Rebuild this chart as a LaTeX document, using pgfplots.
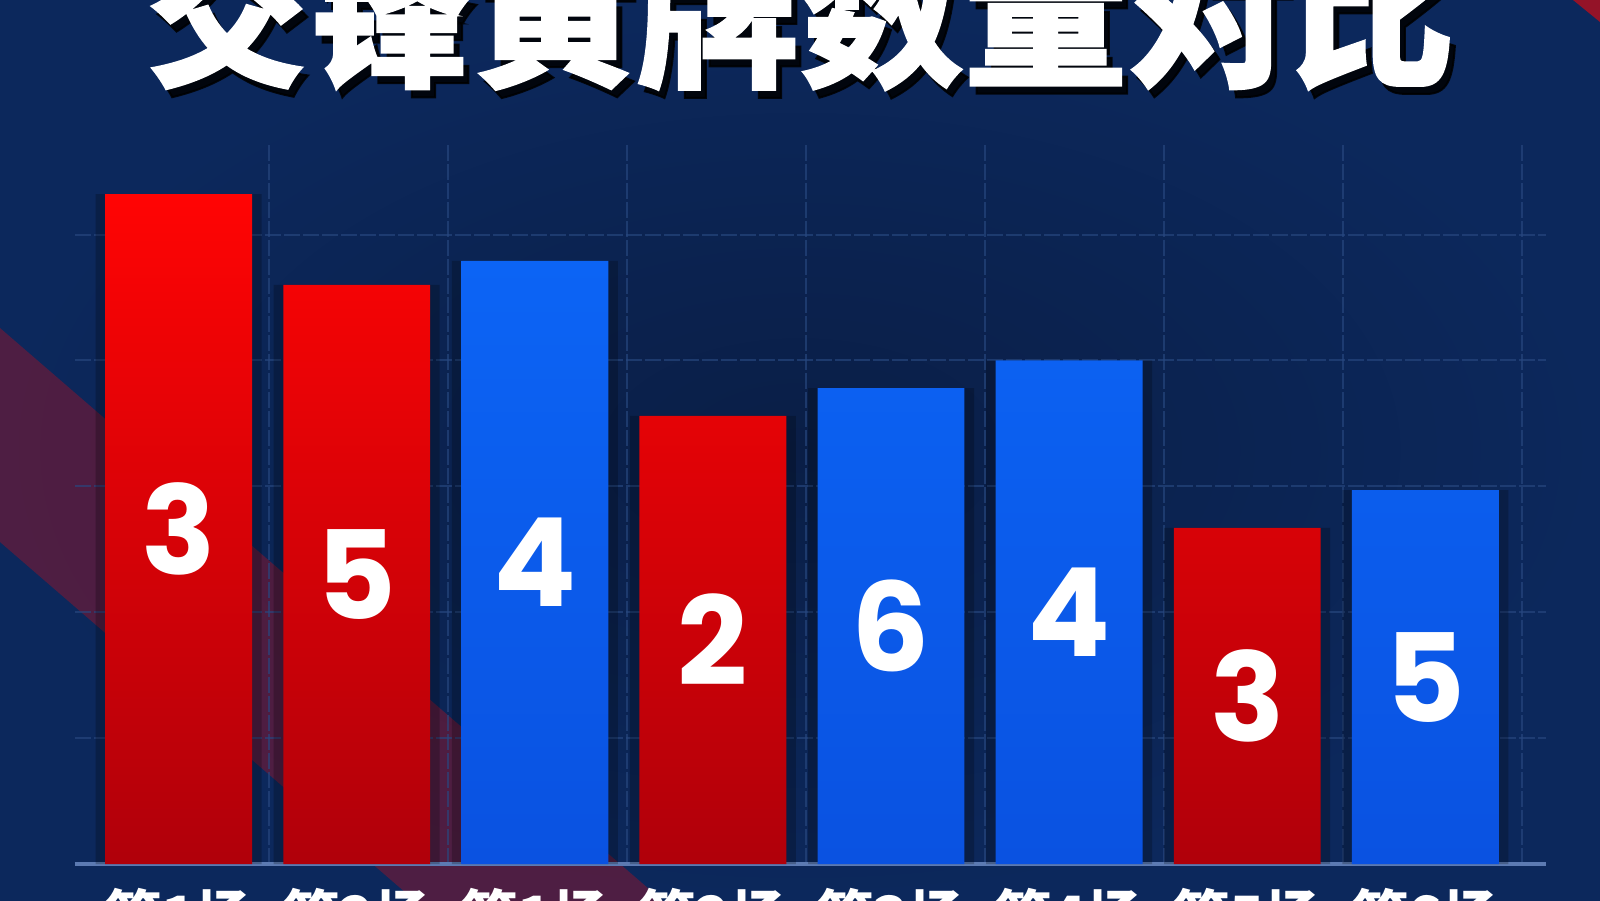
\documentclass[border=0pt]{standalone}
\usepackage{pgfplots}
\pgfplotsset{compat=1.18}
\usepackage{pgfplotstable}
\usepackage{fontspec}
\setmainfont{Noto Sans}
\newfontfamily\cjk{Noto Sans CJK SC}
\newfontfamily\cjktitle[BoldFeatures={FakeBold=1.2}]{Noto Sans CJK SC}
\newfontfamily\digits{Poppins}

\definecolor{bgmid}{RGB}{10,30,70}
\definecolor{bgout}{RGB}{12,40,92}
\definecolor{gridc}{RGB}{40,72,128}
\definecolor{axisc}{RGB}{92,122,178}
\definecolor{redtop}{RGB}{255,4,4}
\definecolor{redbot}{RGB}{176,0,10}
\definecolor{bluetop}{RGB}{12,100,245}
\definecolor{bluebot}{RGB}{10,82,225}
\definecolor{band}{RGB}{150,20,40}

% bar heights, n = number printed in the bar
\pgfplotstableread{
x h n
0 5.32 3
1 4.60 5
3 3.56 2
6 2.67 3
}\redtable
\pgfplotstableread{
x h n
2 4.79 4
4 3.78 6
5 4.00 4
7 2.97 5
}\bluetable

\begin{document}
\begin{tikzpicture}
\path[use as bounding box] (0,0) rectangle (160mm,90mm);
\clip (0,0) rectangle (160mm,90mm);
\shade[inner color=bgmid, outer color=bgout] (0,0) rectangle (160mm,90mm);
% red diagonal band on the left
\fill[band, opacity=0.48] (0,57.2mm) -- (0,35.8mm) -- (90mm,-42mm) -- (90mm,-20.6mm) -- cycle;
% red corner top right
\fill[band!70!red, opacity=0.8] (157.3mm,90mm) -- (160mm,90mm) -- (160mm,87.8mm) -- cycle;

\begin{axis}[
  at={(17.86mm,3.6mm)}, anchor=origin,
  x=17.81mm, y=12.59mm,
  xmin=-0.584, xmax=7.68, ymin=0, ymax=5.73,
  ybar, bar shift=0pt,
  axis x line*=bottom, axis y line*=left,
  y axis line style={draw=none},
  x axis line style={axisc, line width=0.45mm},
  xtick={0,...,7},
  xticklabels={第1场,第2场,第1场,第2场,第3场,第4场,第5场,第6场},
  xticklabel style={font=\cjk\bfseries\fontsize{16.2}{16.5}\selectfont, text=white, inner sep=0pt, anchor=north, yshift=-2.4mm},
  minor xtick={0.505,1.51,2.515,3.52,4.525,5.53,6.535,7.54},
  xminorgrids,
  ytick={1,2,3,4,5}, yticklabels={},
  ymajorgrids,
  major tick length=0pt, minor tick length=0pt,
  grid style={gridc, line width=0.2mm, dash pattern=on 1.6mm off 0.3mm, opacity=0.65},
  minor grid style={gridc, line width=0.2mm, dash pattern=on 1.6mm off 0.3mm, opacity=0.65},
  nodes near coords,
  point meta=explicit symbolic,
  visualization depends on={rawy \as \rawy},
  nodes near coords style={font=\digits\bfseries\fontsize{35}{35}\selectfont, text=white, anchor=center, yshift={-\rawy*6.295mm}},
]
% dark glow behind the bars
\addplot[bar width=16.6mm, fill=black, opacity=0.22, draw=none, nodes near coords=] table[x=x, y=h, meta=n] {\redtable};
\addplot[bar width=16.6mm, fill=black, opacity=0.22, draw=none, nodes near coords=] table[x=x, y=h, meta=n] {\bluetable};
% red team
\addplot[bar width=14.69mm, draw=none, top color=redtop, bottom color=redbot] table[x=x, y=h, meta=n] {\redtable};
% blue team
\addplot[bar width=14.69mm, draw=none, top color=bluetop, bottom color=bluebot] table[x=x, y=h, meta=n] {\bluetable};
\end{axis}

% title, cut by the top edge
\node[anchor=base, text=black, opacity=0.85, font=\cjktitle\bfseries\fontsize{46.6}{47}\selectfont] at (80.6mm,81.8mm) {交锋黄牌数量对比};
\node[anchor=base, text=white, font=\cjktitle\bfseries\fontsize{46.6}{47}\selectfont] at (80.0mm,82.6mm) {交锋黄牌数量对比};
\end{tikzpicture}
\end{document}
